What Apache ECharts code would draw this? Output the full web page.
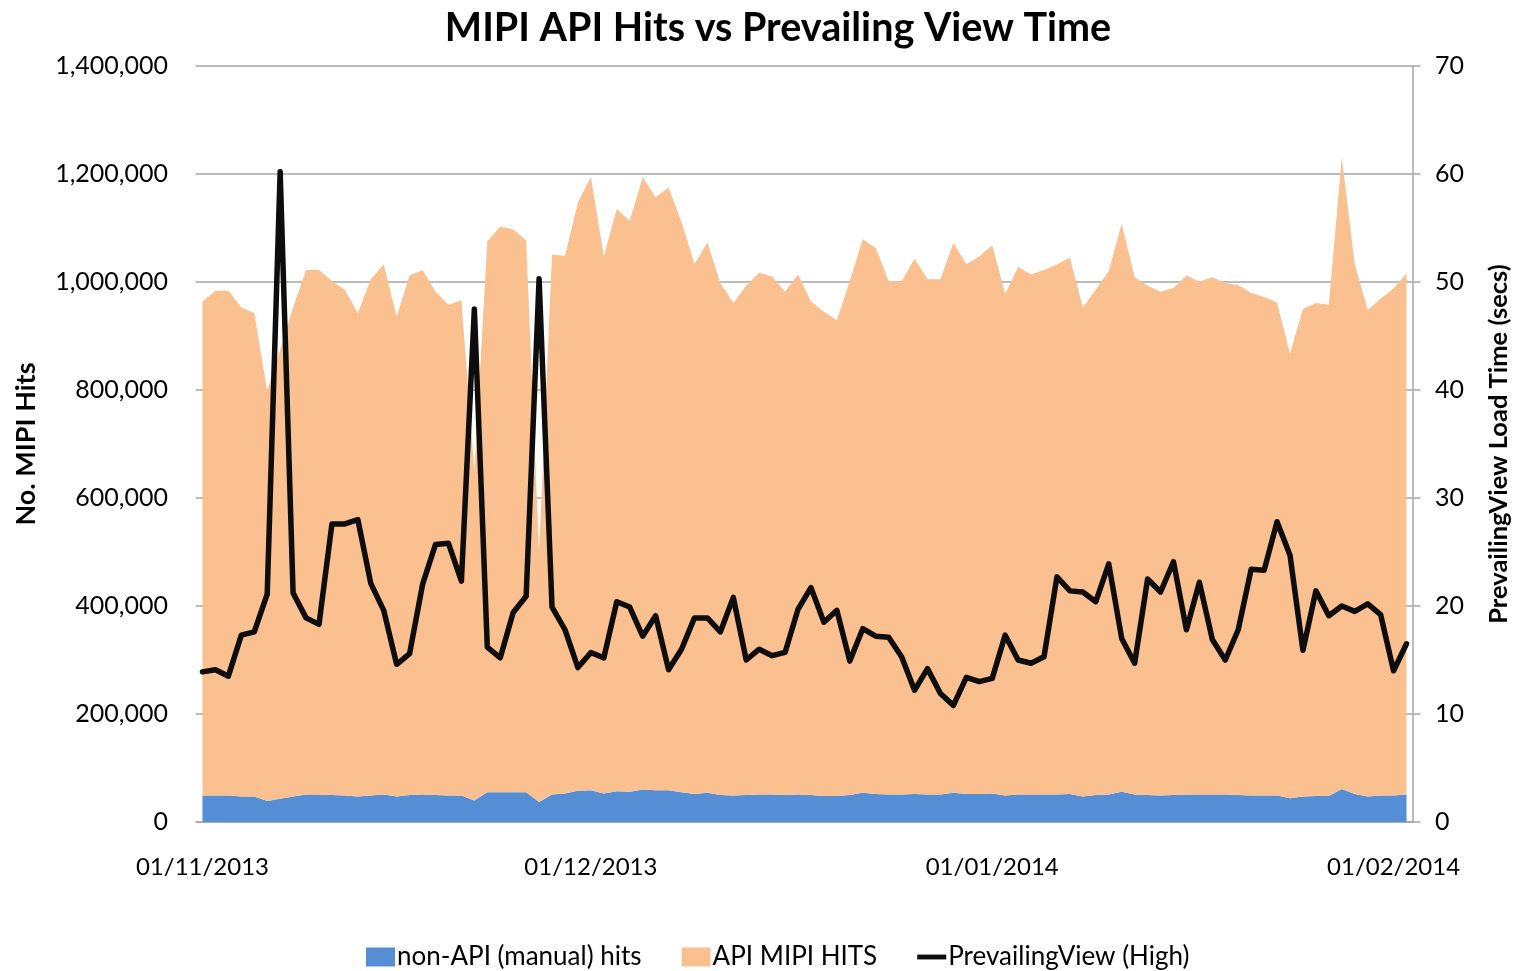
<!DOCTYPE html>
<html>
<head>
<meta charset="utf-8">
<title>MIPI API Hits vs Prevailing View Time</title>
<script src="https://cdn.jsdelivr.net/npm/echarts@6/dist/echarts.min.js"></script>
<style>
html, body { margin: 0; padding: 0; background: #fff; }
#chart { width: 1520px; height: 971px; }
</style>
</head>
<body>
<div id="chart"></div>
<script>
"use strict";

// daily values, 01/11/2013 .. 02/02/2014
const nonApiHits = [
	49000, 49000, 49000, 47000, 47000, 39000, 43000, 47000, 51000, 51000,
	50000, 49000, 47000, 49000, 51000, 47000, 50000, 51000, 50000, 49000,
	49000, 40000, 55000, 55000, 55000, 55000, 37000, 51000, 53000, 58000,
	59000, 53000, 57000, 56000, 60000, 59000, 59000, 55000, 52000, 54000,
	50000, 49000, 50000, 51000, 51000, 50000, 51000, 50000, 48000, 48000,
	50000, 54000, 52000, 51000, 51000, 52000, 51000, 51000, 54000, 52000,
	52000, 53000, 49000, 51000, 51000, 51000, 51000, 52000, 47000, 50000,
	51000, 56000, 51000, 50000, 49000, 50000, 51000, 51000, 51000, 51000,
	50000, 49000, 49000, 49000, 44000, 47000, 48000, 48000, 61000, 52000,
	47000, 49000, 49000, 51000
];
const apiHits = [
	915000, 935000, 935000, 906000, 895000, 759000, 831000, 906000, 971000, 971000,
	952000, 936000, 895000, 956000, 982000, 889000, 962000, 971000, 932000, 909000,
	917000, 610000, 1020000, 1048000, 1042000, 1022000, 463000, 1000000, 995000, 1089000,
	1136000, 995000, 1078000, 1057000, 1134000, 1098000, 1116000, 1056000, 981000, 1019000,
	948000, 912000, 943000, 966000, 959000, 932000, 963000, 914000, 897000, 881000,
	952000, 1025000, 1011000, 951000, 950000, 991000, 954000, 954000, 1018000, 981000,
	995000, 1015000, 929000, 977000, 963000, 971000, 982000, 993000, 906000, 936000,
	969000, 1052000, 958000, 943000, 933000, 939000, 961000, 950000, 958000, 947000,
	944000, 931000, 923000, 913000, 823000, 903000, 913000, 910000, 1170000, 981000,
	901000, 920000, 939000, 965000
];
const viewTime = [
	13.9, 14.1, 13.5, 17.3, 17.6, 21.1, 60.2, 21.2, 18.9, 18.3,
	27.6, 27.6, 28.0, 22.1, 19.6, 14.6, 15.6, 22.0, 25.7, 25.8,
	22.3, 47.5, 16.2, 15.2, 19.4, 20.9, 50.3, 19.9, 17.8, 14.3,
	15.7, 15.2, 20.4, 19.9, 17.2, 19.1, 14.1, 16.0, 18.9, 18.9,
	17.6, 20.8, 15.0, 16.0, 15.4, 15.7, 19.7, 21.7, 18.5, 19.6,
	14.9, 17.9, 17.2, 17.1, 15.3, 12.2, 14.2, 11.9, 10.8, 13.4,
	13.0, 13.3, 17.3, 15.0, 14.7, 15.3, 22.7, 21.4, 21.3, 20.4,
	23.9, 17.0, 14.7, 22.5, 21.3, 24.1, 17.8, 22.2, 16.9, 15.0,
	17.8, 23.4, 23.3, 27.8, 24.7, 15.9, 21.4, 19.1, 20.0, 19.5,
	20.2, 19.2, 14.0, 16.5
];

// dd/mm/yyyy categories, one per day
const days = [];
for (let i = 0; i < viewTime.length; i++) {
	const d = new Date(Date.UTC(2013, 10, 1 + i));
	const dd = String(d.getUTCDate()).padStart(2, "0");
	const mm = String(d.getUTCMonth() + 1).padStart(2, "0");
	days.push(dd + "/" + mm + "/" + d.getUTCFullYear());
}

const FONT = "Lato";
const myChart = echarts.init(document.getElementById("chart"));

const option = {
	animation: false,
	backgroundColor: "#fff",
	textStyle: {fontFamily: FONT, color: "#000"},
	title: {
		text: "MIPI API Hits vs Prevailing View Time",
		left: 773, top: 3, textAlign: "center",
		textStyle: {fontFamily: FONT, fontSize: 39.5, fontWeight: "bold", color: "#000"}
	},
	legend: {
		top: 939, left: 361,
		itemGap: 40, itemWidth: 29, itemHeight: 19,
		textStyle: {fontFamily: FONT, fontSize: 26, color: "#000", padding: [0, 0, 0, -3]},
		data: [
			{name: "non-API (manual) hits", icon: "rect"},
			{name: "API MIPI HITS", icon: "rect"},
			{name: "PrevailingView (High)", icon: "path://M0,0 L30,0 L30,5 L0,5 Z"}
		]
	},
	grid: {left: 196, right: 104, top: 66, bottom: 149},
	xAxis: {
		type: "category",
		data: days,
		boundaryGap: true,
		axisLine: {lineStyle: {color: "#a6a6a6", width: 1.5}},
		axisTick: {show: false},
		axisLabel: {
			fontFamily: FONT, fontSize: 24, color: "#000", margin: 33,
			interval: (idx, val) => val.startsWith("01/")
		}
	},
	yAxis: [
		{
			type: "value", min: 0, max: 1400000, interval: 200000,
			name: "No. MIPI Hits", nameLocation: "middle", nameRotate: 90, nameGap: 156,
			nameTextStyle: {fontFamily: FONT, fontSize: 27, fontWeight: "bold", color: "#000"},
			axisLine: {show: false},
			axisTick: {show: false},
			axisLabel: {
				fontFamily: FONT, fontSize: 25, color: "#000", margin: 28,
				formatter: (v) => v.toLocaleString("en-US")
			},
			splitLine: {lineStyle: {color: "#a6a6a6", width: 1.5}}
		},
		{
			type: "value", min: 0, max: 70, interval: 10,
			name: "PrevailingView Load Time (secs)", nameLocation: "middle", nameRotate: 90, nameGap: 73,
			nameTextStyle: {fontFamily: FONT, fontSize: 25.5, fontWeight: "bold", color: "#000"},
			axisLine: {show: true, lineStyle: {color: "#a6a6a6", width: 1.5}},
			axisTick: {show: true, length: 7, lineStyle: {color: "#a6a6a6", width: 1.5}},
			axisLabel: {fontFamily: FONT, fontSize: 25, color: "#000", margin: 22},
			splitLine: {show: false}
		}
	],
	series: [
		{
			name: "non-API (manual) hits", type: "line", stack: "hits",
			data: nonApiHits, symbol: "none",
			itemStyle: {color: "#558ed5"},
			lineStyle: {width: 0},
			areaStyle: {color: "#558ed5", opacity: 1}
		},
		{
			name: "API MIPI HITS", type: "line", stack: "hits",
			data: apiHits, symbol: "none",
			itemStyle: {color: "#fac090"},
			lineStyle: {width: 0},
			areaStyle: {color: "#fac090", opacity: 1}
		},
		{
			name: "PrevailingView (High)", type: "line", yAxisIndex: 1,
			data: viewTime, symbol: "none",
			itemStyle: {color: "#0d0d0d"},
			lineStyle: {color: "#0d0d0d", width: 5.5, cap: "round", join: "round"},
			z: 5
		}
	]
};

myChart.setOption(option);
</script>
</body>
</html>
